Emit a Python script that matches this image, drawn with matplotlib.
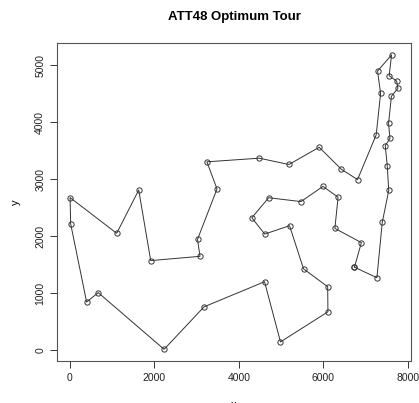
import matplotlib.pyplot as plt

plt.rcParams['font.family'] = ['Liberation Sans', 'DejaVu Sans']

# ATT48 city coordinates, visited in optimum tour order (closed loop)
tour = [1, 8, 38, 31, 44, 18, 7, 28, 6, 37, 19, 27, 17, 43, 30, 36, 46, 33, 20,
        47, 21, 32, 39, 48, 5, 42, 24, 10, 45, 35, 4, 26, 2, 29, 34, 41, 16, 22,
        3, 23, 14, 25, 13, 11, 12, 15, 40, 9, 1]
x_city = [6734, 2233, 5530, 401, 3082, 7608, 7573, 7265, 6898, 1112, 5468, 5989,
          4706, 4612, 6347, 6107, 7611, 7462, 7732, 5900, 4483, 6101, 5199, 1633,
          4307, 675, 7555, 7541, 3177, 7352, 7545, 3245, 6426, 4608, 23, 7248,
          7762, 7392, 3484, 6271, 4985, 1916, 7280, 7509, 10, 6807, 5185, 3023]
y_city = [1453, 10, 1424, 841, 1644, 4458, 3716, 1268, 1885, 2049, 2606, 2873,
          2674, 2035, 2683, 669, 5184, 3590, 4723, 3561, 3369, 1110, 2182, 2809,
          2322, 1006, 4819, 3981, 756, 4506, 2801, 3305, 3173, 1198, 2216, 3779,
          4595, 2244, 2829, 2135, 140, 1569, 4899, 3239, 2676, 2993, 3258, 1942]

xs = [x_city[i - 1] for i in tour]
ys = [y_city[i - 1] for i in tour]

fig = plt.figure(figsize=(4.19, 4.03), dpi=100)
ax = fig.add_axes([0.136, 0.104, 0.845, 0.789])
ax.plot(xs, ys, color='#333333', lw=0.7, marker='o', ms=3.8, mfc='none',
        mec='#333333', mew=0.7)
ax.set_xlim(-300, 8072)
ax.set_ylim(-197, 5391)
ax.set_xticks([0, 2000, 4000, 6000, 8000])
ax.set_yticks([0, 1000, 2000, 3000, 4000, 5000])
ax.tick_params(labelsize=7.5, direction='out', length=5, width=0.7,
               colors='#333333', labelcolor='#222222')
for lab in ax.get_yticklabels():
    lab.set_rotation(90)
    lab.set_va('center')
for s in ax.spines.values():
    s.set_color('#555555')
    s.set_linewidth(0.8)
ax.set_title('ATT48 Optimum Tour', fontsize=9.5, fontweight='bold', pad=17)
ax.set_xlabel('x', fontsize=8, labelpad=12)
ax.set_ylabel('y', fontsize=8, labelpad=10)
fig.savefig('out.png', dpi=100)
